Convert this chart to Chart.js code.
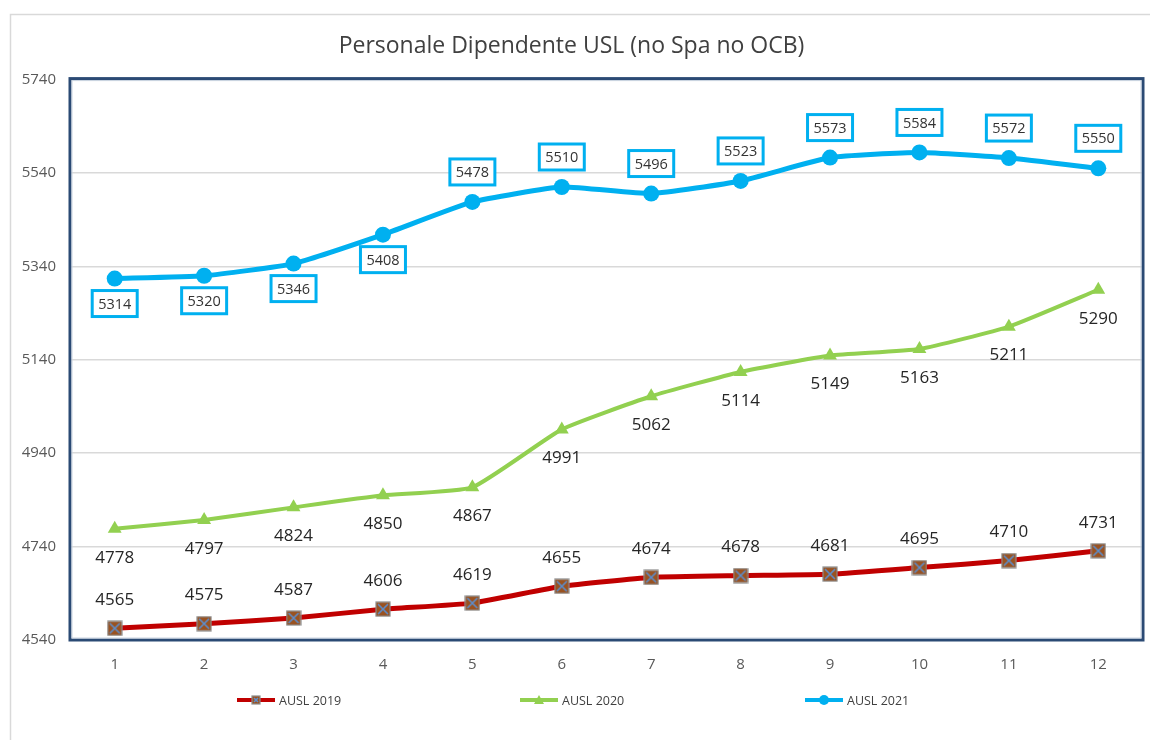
<!DOCTYPE html>
<html lang="it">
<head>
<meta charset="utf-8">
<title>Personale Dipendente USL</title>
<script src="https://cdn.jsdelivr.net/npm/chart.js@4/dist/chart.umd.min.js"></script>
<style>
  html, body { margin: 0; padding: 0; background: #fff; overflow: hidden; }
  canvas { display: block; }
</style>
</head>
<body>
<canvas id="usl" width="1150" height="740"></canvas>
<script>
// mesi e organico per anno
const mesi = ['1', '2', '3', '4', '5', '6', '7', '8', '9', '10', '11', '12'];
const ausl2019 = [4565, 4575, 4587, 4606, 4619, 4655, 4674, 4678, 4681, 4695, 4710, 4731];
const ausl2020 = [4778, 4797, 4824, 4850, 4867, 4991, 5062, 5114, 5149, 5163, 5211, 5290];
const ausl2021 = [5314, 5320, 5346, 5408, 5478, 5510, 5496, 5523, 5573, 5584, 5572, 5550];
const yTicks = [4540, 4740, 4940, 5140, 5340, 5540, 5740];

const ROSSO = '#c00000';
const VERDE = '#92d050';
const AZZURRO = '#00b0f0';
const FONT = '"Open Sans", "DejaVu Sans", sans-serif';

Chart.defaults.font.family = FONT;

// marcatore quadrato marrone con la croce blu
function marcatoreQuadrato(size) {
    const c = document.createElement('canvas');
    c.width = size; c.height = size;
    const ctx = c.getContext('2d');
    ctx.fillStyle = '#9a5220';
    ctx.fillRect(1, 1, size - 2, size - 2);
    ctx.strokeStyle = '#8c8c8c';
    ctx.lineWidth = 1.2;
    ctx.strokeRect(1, 1, size - 2, size - 2);
    ctx.strokeStyle = '#5b8fd0';
    ctx.lineWidth = 1.6;
    ctx.beginPath();
    ctx.moveTo(3, 3); ctx.lineTo(size - 3, size - 3);
    ctx.moveTo(size - 3, 3); ctx.lineTo(3, size - 3);
    ctx.stroke();
    return c;
}
const quadrato = marcatoreQuadrato(16);
const quadratoPiccolo = marcatoreQuadrato(10);

// cornice esterna e bordo dell'area del grafico
const cornice = {
    id: 'cornice',
    beforeDraw(chart) {
        const ctx = chart.ctx;
        ctx.save();
        ctx.strokeStyle = '#d9d9d9';
        ctx.lineWidth = 1.5;
        ctx.beginPath();
        ctx.moveTo(10.5, chart.height);
        ctx.lineTo(10.5, 14.5);
        ctx.lineTo(chart.width, 14.5);
        ctx.stroke();
        ctx.restore();
    },
    beforeDatasetsDraw(chart) {
        const a = chart.chartArea;
        const ctx = chart.ctx;
        ctx.save();
        ctx.strokeStyle = '#2b4a74';
        ctx.lineWidth = 3;
        ctx.strokeRect(a.left, a.top - 1, a.right - a.left, a.bottom - a.top + 1);
        ctx.strokeStyle = '#c9d3e0';
        ctx.lineWidth = 1;
        ctx.strokeRect(a.left + 2, a.top + 1, a.right - a.left - 4, a.bottom - a.top - 3);
        ctx.restore();
    }
};

// etichette dei valori: sopra per il 2019, sotto per il 2020, in riquadro per il 2021
const etichette = {
    id: 'etichette',
    afterDatasetsDraw(chart) {
        const ctx = chart.ctx;
        ctx.save();
        ctx.textAlign = 'center';
        ctx.textBaseline = 'middle';
        chart.data.datasets.forEach((ds, i) => {
            const meta = chart.getDatasetMeta(i);
            meta.data.forEach((pt, j) => {
                const testo = String(ds.data[j]);
                if (i === 0) {
                    ctx.font = '17px ' + FONT;
                    ctx.fillStyle = '#262626';
                    ctx.fillText(testo, pt.x, pt.y - 28);
                } else if (i === 1) {
                    ctx.font = '17px ' + FONT;
                    ctx.fillStyle = '#262626';
                    ctx.fillText(testo, pt.x, pt.y + 29);
                } else {
                    const y = j < 4 ? pt.y + 25 : pt.y - 30;
                    const w = 45, h = 26;
                    ctx.fillStyle = '#fff';
                    ctx.fillRect(pt.x - w / 2, y - h / 2, w, h);
                    ctx.strokeStyle = AZZURRO;
                    ctx.lineWidth = 3;
                    ctx.strokeRect(pt.x - w / 2, y - h / 2, w, h);
                    ctx.font = '14.5px ' + FONT;
                    ctx.fillStyle = '#333';
                    ctx.fillText(testo, pt.x, y + 1);
                }
            });
        });
        ctx.restore();
    }
};

// legenda in basso con linea e marcatore
const legendaLinee = {
    id: 'legendaLinee',
    afterDraw(chart) {
        const ctx = chart.ctx;
        const y = 700;
        const posizioni = [237, 520, 805];
        ctx.save();
        chart.data.datasets.forEach((ds, i) => {
            const x = posizioni[i];
            ctx.strokeStyle = ds.borderColor;
            ctx.lineWidth = 4;
            ctx.beginPath();
            ctx.moveTo(x, y);
            ctx.lineTo(x + 38, y);
            ctx.stroke();
            const cx = x + 19;
            if (i === 0) {
                ctx.drawImage(quadratoPiccolo, cx - 5, y - 5);
            } else if (i === 1) {
                ctx.fillStyle = VERDE;
                ctx.beginPath();
                ctx.moveTo(cx, y - 5);
                ctx.lineTo(cx + 5, y + 4);
                ctx.lineTo(cx - 5, y + 4);
                ctx.closePath();
                ctx.fill();
            } else {
                ctx.fillStyle = AZZURRO;
                ctx.beginPath();
                ctx.arc(cx, y, 5, 0, Math.PI * 2);
                ctx.fill();
            }
            ctx.font = '12.5px ' + FONT;
            ctx.fillStyle = '#404040';
            ctx.textAlign = 'left';
            ctx.textBaseline = 'middle';
            ctx.fillText(ds.label, x + 42, y + 1);
        });
        ctx.restore();
    }
};

new Chart(document.getElementById('usl').getContext('2d'), {
    type: 'line',
    data: {
        labels: mesi,
        datasets: [
            {
                label: 'AUSL 2019',
                data: ausl2019,
                borderColor: ROSSO,
                backgroundColor: ROSSO,
                borderWidth: 5,
                tension: 0.15,
                pointStyle: quadrato,
                pointRadius: 8
            },
            {
                label: 'AUSL 2020',
                data: ausl2020,
                borderColor: VERDE,
                backgroundColor: VERDE,
                borderWidth: 4,
                tension: 0.15,
                pointStyle: 'triangle',
                pointRadius: 8,
                pointBorderWidth: 0
            },
            {
                label: 'AUSL 2021',
                data: ausl2021,
                borderColor: AZZURRO,
                backgroundColor: AZZURRO,
                borderWidth: 5,
                tension: 0.15,
                pointStyle: 'circle',
                pointRadius: 8,
                pointBorderWidth: 0
            }
        ]
    },
    options: {
        responsive: false,
        animation: false,
        layout: { autoPadding: false, padding: { left: 0, right: 7, top: 0, bottom: 0 } },
        scales: {
            x: {
                offset: true,
                grid: { display: false, drawTicks: false },
                border: { display: false },
                ticks: { color: '#595959', font: { size: 15 }, padding: 16 },
                afterFit: (scale) => { scale.height = 100; }
            },
            y: {
                min: 4540,
                max: 5740,
                afterBuildTicks: (scale) => { scale.ticks = yTicks.map(v => ({ value: v })); },
                grid: { color: '#d9d9d9', lineWidth: 1.5, drawTicks: false },
                border: { display: false },
                ticks: {
                    color: '#595959',
                    font: { size: 15 },
                    padding: 14,
                    callback: (v) => String(v)
                },
                afterFit: (scale) => { scale.width = 70; }
            }
        },
        plugins: {
            legend: { display: false },
            tooltip: { enabled: false },
            title: {
                display: true,
                text: 'Personale Dipendente USL (no Spa no OCB)',
                color: '#404040',
                font: { size: 23, weight: 'normal' },
                padding: { top: 33, bottom: 19 }
            }
        }
    },
    plugins: [cornice, etichette, legendaLinee]
});
</script>
</body>
</html>
